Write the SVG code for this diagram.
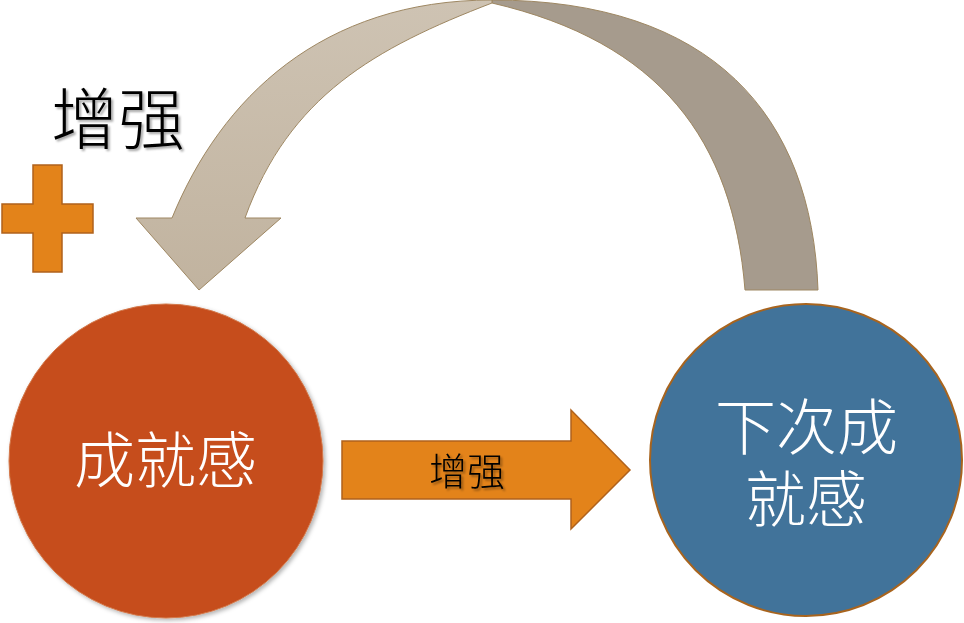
<svg xmlns="http://www.w3.org/2000/svg" width="964" height="623" viewBox="0 0 964 623">
  <defs>
    <linearGradient id="gLeft" x1="0" y1="0" x2="0" y2="1">
      <stop offset="0" stop-color="#cec3b3"/>
      <stop offset="1" stop-color="#c1b39f"/>
    </linearGradient>
    <filter id="txtShadow" x="-10%" y="-10%" width="130%" height="130%">
      <feDropShadow dx="2" dy="2" stdDeviation="1.2" flood-color="#000" flood-opacity="0.35"/>
    </filter>
    <filter id="shapeShadow" x="-10%" y="-10%" width="125%" height="125%">
      <feDropShadow dx="2" dy="2" stdDeviation="2" flood-color="#000" flood-opacity="0.3"/>
    </filter>
    <style>
      .cjk { font-family: "Noto Sans CJK SC", "Noto Sans CJK JP", sans-serif; font-weight: 300; }
      .dark { fill: #000000; }
      .light { fill: #ffffff; }
      .orange { fill: #e3831a; stroke: #b0621c; stroke-width: 1.5; }
      .loopL { fill: url(#gLeft); stroke: #9e8762; stroke-width: 1; }
      .loopR { fill: #a69b8d; stroke: #9e8762; stroke-width: 1; }
    </style>
  </defs>

  <rect x="0" y="0" width="964" height="623" fill="#ffffff"/>

  <g id="connectors">
    <!-- curved feedback arrow: back (right) half -->
    <path class="loopR" d="M492,0 C712,0 812,115 818,290 L745,290 C733,140 660,42 492,3 Z"/>
    <!-- curved feedback arrow: front (left) half with head -->
    <path class="loopL" d="M492,0 C322,0 221,98 172,218 L136,218 L199,290 L281,218 L245,218 C289,96 375,48 492,3 Z"/>
    <!-- straight arrow between nodes -->
    <path class="orange" d="M342,441 L571,441 L571,410 L630,470 L571,529 L571,499 L342,499 Z"/>
  </g>

  <g id="label-arrow">
    <text class="cjk dark" x="467" y="485" font-size="38" text-anchor="middle" filter="url(#txtShadow)">增强</text>
  </g>

  <g id="plus-sign">
    <path class="orange" d="M33,165 L62,165 L62,204 L93,204 L93,233 L62,233 L62,272 L33,272 L33,233 L2,233 L2,204 L33,204 Z"/>
  </g>

  <g id="label-top">
    <text class="cjk dark" x="118" y="144" font-size="67" text-anchor="middle" filter="url(#txtShadow)">增强</text>
  </g>

  <g id="node-achievement">
    <circle cx="166" cy="461" r="157" fill="#c64e1a" stroke="#d2774a" stroke-width="1" filter="url(#shapeShadow)"/>
    <text class="cjk light" x="165.5" y="483" font-size="61" text-anchor="middle">成就感</text>
  </g>

  <g id="node-next-achievement">
    <circle cx="806" cy="460" r="156" fill="#41739a" stroke="#a8641e" stroke-width="2"/>
    <text class="cjk light" font-size="61" text-anchor="middle"><tspan x="806.5" y="450">下次成</tspan><tspan x="806" y="522">就感</tspan></text>
  </g>
</svg>
